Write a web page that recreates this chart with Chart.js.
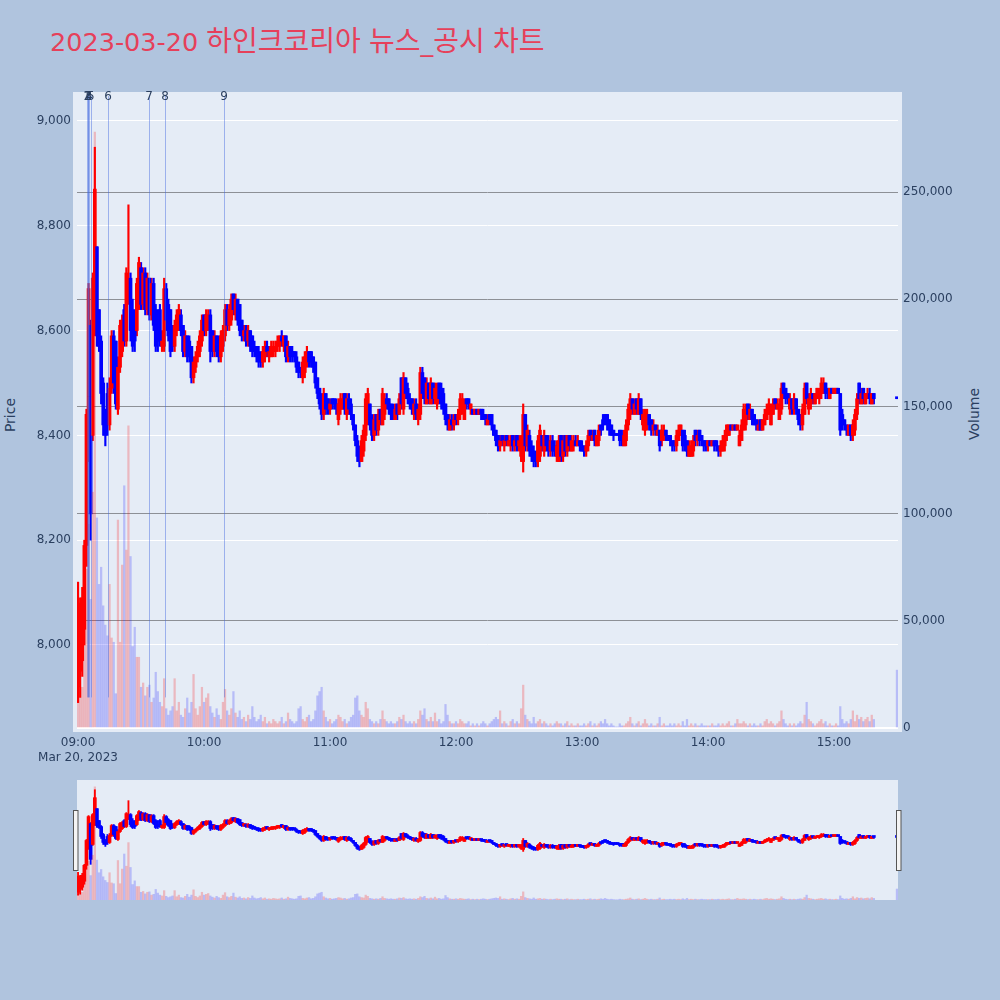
<!DOCTYPE html>
<html><head><meta charset="utf-8">
<script src="https://cdn.jsdelivr.net/npm/chart.js@4.4.1/dist/chart.umd.min.js"></script>
<style>
html,body{margin:0;padding:0;background:#b0c4de;width:1000px;height:1000px;overflow:hidden;font-family:"DejaVu Sans","Noto Sans CJK KR",sans-serif;}
#title{position:absolute;left:50px;top:28px;font-size:25.5px;line-height:28px;color:#e6405a;white-space:nowrap;font-family:"DejaVu Sans","Noto Sans CJK KR",sans-serif;}
#title .ko{font-size:28px;}
.axt{position:absolute;font-size:14px;line-height:14px;color:#2a3f5f;white-space:nowrap;transform:translate(-50%,-50%) rotate(-90deg);}
#main{position:absolute;left:0;top:0;}
#slider{position:absolute;left:70px;top:780px;}
</style></head><body>
<div id="title">2023-03-20 <span class="ko">하인크코리아</span> <span class="ko">뉴스</span>_<span class="ko">공시</span> <span class="ko">차트</span></div>
<div class="axt" style="left:10px;top:415px;">Price</div>
<div class="axt" style="left:974px;top:414px;">Volume</div>
<canvas id="main" width="1000" height="775"></canvas>
<canvas id="slider" width="835" height="120"></canvas>
<script>
// ---- data (one candle per minute starting at startTime) ----
const startTime = "09:00";
const opens = [7920,7950,7970,8030,8190,8360,8610,8400,8600,8760,
8640,8580,8500,8440,8480,8420,8490,8590,8580,8450,
8530,8560,8640,8580,8660,8700,8640,8620,8600,8650,
8720,8650,8710,8640,8700,8630,8690,8640,8600,8640,
8570,8570,8680,8650,8640,8600,8570,8600,8610,8630,
8610,8560,8590,8580,8570,8510,8530,8550,8560,8580,
8630,8600,8610,8630,8600,8560,8590,8580,8550,8570,
8590,8640,8610,8620,8670,8630,8660,8650,8620,8590,
8600,8580,8600,8590,8570,8570,8560,8550,8540,8550,
8570,8550,8550,8560,8560,8570,8570,8590,8570,8590,
8550,8570,8560,8560,8550,8540,8530,8510,8520,8540,
8560,8560,8550,8540,8510,8490,8470,8440,8480,8470,
8450,8470,8470,8460,8430,8450,8450,8480,8440,8470,
8460,8440,8420,8390,8370,8350,8370,8400,8430,8460,
8430,8400,8440,8410,8450,8420,8440,8470,8470,8460,
8450,8430,8460,8440,8510,8450,8510,8490,8470,8470,
8440,8460,8430,8440,8520,8510,8460,8500,8460,8500,
8470,8460,8500,8490,8480,8460,8440,8410,8430,8420,
8440,8430,8440,8450,8430,8470,8470,8450,8450,8440,
8450,8440,8450,8440,8440,8420,8440,8440,8420,8410,
8400,8380,8400,8380,8400,8380,8380,8400,8380,8400,
8380,8360,8350,8440,8380,8400,8380,8370,8370,8350,
8360,8400,8370,8400,8390,8370,8390,8380,8360,8350,
8400,8360,8400,8370,8400,8370,8380,8390,8380,8390,
8380,8380,8370,8380,8410,8390,8410,8380,8390,8420,
8430,8440,8440,8430,8420,8410,8400,8400,8410,8400,
8380,8390,8420,8440,8470,8440,8470,8440,8470,8420,
8410,8420,8440,8430,8410,8420,8400,8410,8390,8400,
8410,8400,8400,8390,8390,8380,8390,8400,8410,8400,
8390,8360,8360,8370,8410,8390,8410,8400,8390,8390,
8380,8390,8380,8390,8390,8380,8370,8370,8380,8400,
8400,8420,8410,8420,8410,8380,8390,8410,8420,8460,
8430,8450,8440,8430,8410,8430,8410,8420,8430,8440,
8420,8440,8470,8450,8430,8450,8500,8490,8480,8450,
8470,8450,8470,8450,8440,8420,8440,8500,8450,8460,
8480,8460,8470,8470,8480,8480,8500,8490,8470,8490,
8480,8480,8490,8480,8440,8430,8420,8400,8420,8400,
8410,8440,8500,8460,8490,8460,8470,8480,8460,8480];
const highs = [8120,8090,8110,8200,8450,8690,8620,8710,8950,8760,
8640,8590,8510,8450,8500,8510,8600,8600,8580,8550,
8620,8630,8650,8720,8840,8710,8660,8640,8700,8740,
8730,8720,8720,8710,8700,8700,8700,8650,8640,8650,
8600,8700,8690,8660,8640,8610,8620,8640,8650,8640,
8610,8600,8590,8590,8570,8550,8560,8580,8600,8630,
8630,8640,8640,8640,8600,8600,8590,8590,8600,8610,
8650,8650,8650,8670,8670,8670,8660,8650,8620,8610,
8610,8610,8600,8590,8580,8570,8570,8560,8570,8580,
8580,8570,8580,8580,8580,8590,8590,8600,8590,8590,
8580,8570,8570,8560,8560,8540,8530,8550,8560,8570,
8560,8560,8550,8540,8510,8490,8480,8490,8480,8470,
8470,8470,8470,8470,8470,8480,8480,8480,8480,8480,
8470,8440,8420,8400,8380,8400,8420,8480,8490,8460,
8440,8440,8440,8450,8450,8490,8480,8480,8470,8460,
8460,8460,8460,8480,8510,8520,8510,8500,8480,8470,
8470,8470,8460,8530,8530,8510,8510,8500,8510,8500,
8500,8500,8500,8500,8490,8460,8440,8440,8440,8440,
8440,8450,8480,8480,8470,8470,8470,8460,8450,8450,
8450,8450,8450,8450,8440,8440,8440,8440,8420,8410,
8400,8400,8400,8400,8400,8400,8400,8400,8400,8400,
8400,8400,8460,8440,8420,8410,8390,8380,8370,8400,
8420,8400,8410,8400,8400,8400,8400,8390,8390,8400,
8400,8400,8400,8400,8400,8400,8400,8400,8400,8390,
8390,8380,8390,8410,8410,8410,8410,8400,8420,8420,
8440,8440,8440,8430,8420,8410,8400,8400,8410,8410,
8410,8430,8460,8480,8470,8470,8470,8480,8470,8450,
8450,8450,8440,8430,8430,8420,8420,8410,8420,8420,
8410,8400,8400,8390,8390,8410,8420,8420,8410,8410,
8390,8390,8390,8400,8410,8410,8410,8400,8390,8390,
8390,8390,8390,8390,8390,8380,8390,8400,8410,8420,
8420,8420,8420,8420,8420,8410,8430,8460,8460,8460,
8460,8450,8440,8430,8430,8430,8430,8450,8460,8470,
8460,8470,8470,8470,8470,8500,8500,8490,8480,8480,
8470,8480,8470,8450,8440,8460,8500,8500,8480,8490,
8480,8480,8490,8490,8510,8510,8500,8490,8490,8490,
8490,8490,8490,8480,8450,8430,8420,8420,8420,8430,
8450,8480,8500,8490,8490,8480,8490,8490,8480,8480];
const lows = [7890,7900,7940,8000,8150,8350,8200,8390,8590,8570,
8560,8460,8400,8380,8400,8410,8480,8480,8450,8440,
8520,8550,8570,8570,8650,8580,8560,8560,8590,8640,
8640,8640,8630,8630,8620,8620,8600,8560,8560,8570,
8560,8560,8600,8580,8550,8560,8560,8590,8600,8590,
8550,8550,8540,8540,8500,8500,8520,8540,8550,8570,
8590,8590,8600,8540,8550,8550,8550,8540,8540,8560,
8580,8600,8600,8610,8630,8620,8610,8590,8580,8580,
8570,8570,8560,8550,8550,8540,8530,8530,8530,8540,
8550,8540,8550,8550,8550,8560,8560,8570,8560,8540,
8540,8540,8540,8540,8520,8510,8510,8500,8510,8530,
8530,8530,8520,8490,8470,8450,8430,8430,8440,8440,
8440,8450,8450,8440,8420,8440,8450,8440,8430,8440,
8430,8410,8380,8350,8340,8350,8360,8390,8420,8410,
8390,8390,8400,8400,8420,8420,8430,8450,8440,8430,
8430,8430,8430,8440,8450,8440,8470,8460,8450,8440,
8430,8430,8420,8430,8470,8460,8460,8460,8460,8460,
8460,8450,8460,8450,8440,8420,8410,8410,8410,8410,
8420,8420,8430,8440,8430,8450,8450,8440,8440,8440,
8440,8440,8430,8430,8420,8420,8420,8410,8400,8380,
8370,8370,8380,8370,8380,8380,8370,8370,8370,8370,
8370,8350,8330,8370,8370,8360,8350,8340,8340,8340,
8350,8370,8360,8370,8360,8360,8360,8360,8350,8350,
8350,8350,8360,8360,8370,8370,8370,8380,8380,8370,
8370,8360,8360,8370,8390,8390,8380,8380,8380,8400,
8410,8420,8410,8400,8400,8390,8400,8400,8380,8380,
8380,8380,8410,8430,8440,8440,8440,8440,8430,8410,
8400,8410,8410,8400,8400,8400,8400,8370,8380,8390,
8390,8390,8380,8370,8370,8370,8390,8400,8370,8370,
8360,8360,8360,8360,8380,8380,8380,8380,8370,8370,
8370,8380,8380,8370,8370,8360,8360,8370,8370,8390,
8400,8410,8410,8410,8410,8380,8390,8410,8410,8430,
8430,8420,8420,8410,8410,8410,8410,8420,8430,8440,
8420,8440,8450,8450,8430,8440,8470,8460,8460,8440,
8440,8440,8440,8420,8410,8410,8440,8460,8440,8450,
8460,8460,8470,8460,8470,8480,8470,8470,8470,8480,
8480,8480,8480,8400,8410,8410,8400,8400,8390,8390,
8400,8430,8460,8460,8460,8460,8470,8460,8460,8460];
const closes = [8080,8060,8090,8190,8440,8680,8250,8700,8870,8590,
8570,8480,8420,8400,8420,8490,8590,8500,8460,8530,
8610,8620,8580,8710,8700,8600,8570,8580,8690,8730,
8650,8710,8640,8700,8630,8690,8610,8570,8580,8580,
8580,8680,8620,8590,8560,8570,8610,8630,8640,8600,
8560,8590,8550,8550,8510,8540,8550,8570,8590,8620,
8600,8630,8630,8560,8560,8590,8560,8550,8590,8600,
8640,8610,8640,8660,8640,8660,8620,8600,8590,8600,
8580,8600,8570,8560,8560,8550,8540,8540,8560,8570,
8560,8560,8570,8570,8570,8580,8590,8580,8590,8550,
8570,8550,8550,8550,8530,8520,8520,8540,8550,8560,
8540,8540,8530,8500,8480,8460,8440,8480,8450,8450,
8460,8460,8460,8450,8460,8470,8470,8450,8470,8450,
8440,8420,8390,8360,8350,8390,8410,8470,8480,8420,
8400,8430,8410,8440,8430,8480,8470,8460,8450,8440,
8440,8450,8440,8470,8460,8510,8480,8470,8460,8450,
8460,8440,8450,8520,8480,8470,8500,8470,8500,8470,
8490,8490,8470,8460,8450,8430,8420,8430,8420,8430,
8430,8440,8470,8470,8460,8460,8460,8460,8440,8450,
8440,8450,8440,8430,8430,8430,8430,8420,8400,8390,
8380,8390,8390,8390,8390,8390,8390,8380,8390,8380,
8390,8390,8440,8380,8410,8370,8360,8350,8350,8390,
8410,8380,8400,8380,8370,8390,8370,8370,8380,8390,
8360,8390,8370,8400,8380,8390,8390,8380,8390,8380,
8370,8370,8380,8400,8400,8400,8390,8400,8410,8410,
8420,8430,8420,8410,8400,8400,8400,8400,8390,8390,
8400,8420,8450,8470,8450,8460,8450,8470,8440,8440,
8440,8440,8420,8410,8420,8410,8410,8380,8410,8410,
8400,8390,8390,8380,8380,8400,8410,8420,8380,8380,
8370,8380,8380,8390,8390,8400,8390,8390,8380,8380,
8390,8380,8390,8380,8380,8370,8380,8390,8400,8420,
8420,8410,8420,8410,8420,8400,8420,8450,8450,8440,
8450,8430,8420,8420,8420,8410,8430,8440,8450,8460,
8450,8460,8460,8460,8460,8490,8480,8470,8470,8470,
8450,8470,8450,8430,8420,8450,8490,8470,8470,8480,
8470,8480,8490,8480,8500,8500,8480,8480,8490,8480,
8490,8490,8480,8410,8420,8420,8410,8420,8400,8420,
8440,8470,8470,8480,8470,8480,8480,8470,8480,8470];
const volumes = [14000,19000,19000,68000,74000,95000,60000,110000,278000,98000,
67000,75000,57000,48000,43000,67000,42000,40000,16000,97000,
40000,76000,113000,83000,141000,80000,38000,47000,33000,33000,
19000,21000,15000,19000,20000,12000,14000,26000,17000,12000,
10000,23000,9000,6000,8000,10000,23000,8000,12000,6000,
5000,9000,14000,7000,12000,25000,9000,6000,10000,19000,
12000,14000,16000,10000,7000,5000,9000,6000,4000,12000,
18000,8000,6000,9000,17000,7000,5000,8000,4000,5000,
3000,6000,4000,10000,5000,3000,4000,6000,3000,5000,
2000,3000,2000,4000,3000,2000,3000,5000,2000,3000,
7000,4000,3000,2000,3000,9000,10000,4000,3000,5000,
6000,3000,4000,8000,15000,17000,19000,8000,5000,3000,
4000,2000,3000,4000,6000,5000,3000,4000,2000,3000,
5000,6000,14000,15000,8000,6000,5000,12000,9000,4000,
3000,2000,3000,2000,4000,8000,4000,3000,2000,3000,
2000,2000,3000,5000,4000,6000,3000,2000,3000,2000,
3000,2000,4000,8000,6000,9000,4000,3000,5000,3000,
7000,3000,4000,2000,3000,11000,6000,3000,2000,2000,
3000,2000,4000,3000,2000,2000,3000,1000,2000,1000,
2000,1000,2000,3000,2000,1000,2000,3000,4000,5000,
4000,8000,2000,3000,2000,1000,3000,4000,2000,3000,
2000,9000,20000,6000,4000,3000,2000,5000,2000,3000,
4000,2000,3000,2000,1000,2000,1000,2000,3000,2000,
2000,1000,2000,3000,1000,2000,1000,1000,2000,1000,
1000,2000,1000,2000,3000,1000,2000,1000,2000,3000,
2000,4000,2000,1000,2000,1000,500,500,2000,1000,
1000,2000,3000,5000,2000,1000,2000,3000,1000,2000,
4000,2000,1000,2000,1000,1000,2000,5000,1000,2000,
1000,1000,2000,1000,2000,1000,2000,1000,3000,1000,
4000,1000,2000,1000,2000,1000,1000,2000,1000,1000,
1000,1000,2000,1000,1000,2000,1000,2000,1000,2000,
3000,1000,1000,2000,4000,2000,2000,3000,2000,1000,
2000,1000,2000,1000,1000,2000,1000,3000,4000,2000,
3000,2000,1000,2000,3000,8000,4000,2000,1000,2000,
1000,2000,1000,2000,3000,2000,6000,12000,4000,3000,
2000,1000,2000,3000,4000,2000,3000,1000,2000,1000,
1000,2000,1000,10000,4000,2000,3000,2000,4000,8000,
3000,6000,4000,5000,3000,4000,5000,3000,6000,4000];
// closing auction
const auctionTime = "15:30";
const auctionPrice = 8470;
const auctionVolume = 27000;

const priceTicks = [8000, 8200, 8400, 8600, 8800, 9000];
const volumeTicks = [0, 50000, 100000, 150000, 200000, 250000];
const timeTicks = ["09:00","10:00","11:00","12:00","13:00","14:00","15:00"];
const dateLabel = "Mar 20, 2023";
const newsTimes = ["09:04:20","09:04:35","09:04:50","09:05:10","09:06:05","09:14:15","09:33:50","09:41:25","10:09:30"];
const newsLabels = ["1","2","3","4","5","6","7","8","9"];

// ---- helpers ----
function toMin(t){ const p = t.split(':').map(Number); return (p[0]-9)*60 + p[1] + (p[2]||0)/60; }
const t0 = toMin(startTime);
const X = opens.map((_, i) => t0 + i).concat([toMin(auctionTime)]);
const O = opens.concat([auctionPrice]);
const H = highs.concat([auctionPrice]);
const L = lows.concat([auctionPrice]);
const C = closes.concat([auctionPrice]);
const V = volumes.concat([auctionVolume]);
const up = C.map((c, i) => c > O[i]);

const RANGE = { xMin: -0.5, xMax: 390.5, pMin: 7841.6, pMax: 9047.7, vMin: 0, vMax: 294800 };
const NEWS_LOW = 7900;

Chart.defaults.font.family = "'DejaVu Sans', sans-serif";
Chart.defaults.font.size = 12;
Chart.defaults.color = '#2a3f5f';

function makeDatasets(bodyW, wickW, volW){
  return [
    { label:'Volume', yAxisID:'yv', order:0, grouped:false, barThickness:volW,
      data: X.map((x, i) => ({x:x, y:V[i]})),
      backgroundColor: up.map(u => u ? 'rgba(255,0,0,0.22)' : 'rgba(0,0,255,0.2)') },
    { label:'Body', yAxisID:'y', order:1, grouped:false, barThickness:bodyW, minBarLength:2,
      data: X.map((x, i) => ({x:x, y:[O[i], C[i]]})),
      backgroundColor: up.map(u => u ? '#ff0000' : '#0000ff') },
    { label:'Wick', yAxisID:'y', order:2, grouped:false, barThickness:wickW, minBarLength:1,
      data: X.map((x, i) => ({x:x, y:[L[i], H[i]]})),
      backgroundColor: up.map(u => u ? '#ff0000' : '#0000ff') }
  ];
}

const mainBg = { id:'mainBg', beforeDraw(chart){
  const c = chart.ctx; c.save(); c.fillStyle = '#e5ecf6'; c.fillRect(73, 92, 829, 640); c.restore();
}};
const newsPlugin = { id:'news', afterDraw(chart){
  const c = chart.ctx, area = chart.chartArea, xs = chart.scales.x, ys = chart.scales.y;
  c.save();
  c.strokeStyle = 'rgba(65,105,225,0.45)'; c.lineWidth = 1;
  const yb = ys.getPixelForValue(NEWS_LOW);
  newsTimes.forEach(t => {
    const px = Math.round(xs.getPixelForValue(toMin(t))) + 0.5;
    c.beginPath(); c.moveTo(px, area.top); c.lineTo(px, yb); c.stroke();
  });
  c.fillStyle = '#2a3f5f'; c.font = "12px 'DejaVu Sans'"; c.textAlign = 'center'; c.textBaseline = 'middle';
  newsTimes.forEach((t, i) => { c.fillText(newsLabels[i], xs.getPixelForValue(toMin(t)), area.top + 1); });
  c.restore();
}};

new Chart(document.getElementById('main'), {
  type: 'bar',
  data: { datasets: makeDatasets(3, 1.5, 1.6) },
  options: {
    responsive:false, animation:false, events:[], devicePixelRatio:1,
    layout:{ padding:{ top:96, left:0, right:0, bottom:0 } },
    plugins:{ legend:{display:false}, tooltip:{enabled:false} },
    scales:{
      x:{ type:'linear', min:RANGE.xMin, max:RANGE.xMax, offset:false,
          grid:{display:false, drawTicks:false}, border:{display:false},
          afterBuildTicks: s => { s.ticks = timeTicks.map(t => ({value: toMin(t)})); },
          ticks:{ autoSkip:false, maxRotation:0, padding:8, color:'#2a3f5f',
                  callback:(v, i) => i === 0 ? [timeTicks[0], dateLabel] : timeTicks[i] },
          afterFit: s => { s.height = 47; } },
      y:{ type:'linear', position:'left', min:RANGE.pMin, max:RANGE.pMax,
          grid:{ color:'#ffffff', lineWidth:1, drawTicks:false }, border:{display:false},
          afterBuildTicks: s => { s.ticks = priceTicks.map(v => ({value:v})); },
          ticks:{ autoSkip:false, padding:6, color:'#2a3f5f', callback: v => v.toLocaleString('en-US') },
          afterFit: s => { s.width = 77; } },
      yv:{ type:'linear', position:'right', min:RANGE.vMin, max:RANGE.vMax,
          grid:{ color: c => (c.tick && c.tick.value === 0) ? '#ffffff' : '#8d9096',
                 lineWidth: c => (c.tick && c.tick.value === 0) ? 2 : 1, drawTicks:false },
          border:{display:false},
          afterBuildTicks: s => { s.ticks = volumeTicks.map(v => ({value:v})); },
          ticks:{ autoSkip:false, padding:5, color:'#2a3f5f', callback: v => v.toLocaleString('en-US') },
          afterFit: s => { s.width = 102; } }
    }
  },
  plugins:[mainBg, newsPlugin]
});

const sliderPlugin = { id:'sliderDeco',
  beforeDraw(chart){ const c = chart.ctx, a = chart.chartArea; c.save(); c.fillStyle = '#e5ecf6'; c.fillRect(a.left, a.top, a.right - a.left, a.bottom - a.top); c.restore(); },
  afterDraw(chart){ const c = chart.ctx, a = chart.chartArea; c.save();
    c.fillStyle = '#f4f4f4'; c.strokeStyle = '#555'; c.lineWidth = 1;
    c.fillRect(a.left - 3.5, 30.5, 4.5, 60); c.strokeRect(a.left - 3.5, 30.5, 4.5, 60);
    c.fillRect(a.right - 1.5, 30.5, 4.5, 60); c.strokeRect(a.right - 1.5, 30.5, 4.5, 60);
    c.restore(); }
};

new Chart(document.getElementById('slider'), {
  type: 'bar',
  data: { datasets: makeDatasets(3, 1.2, 1.6) },
  options: {
    responsive:false, animation:false, events:[], devicePixelRatio:1,
    layout:{ padding:{ top:0, left:7, right:7, bottom:0 } },
    plugins:{ legend:{display:false}, tooltip:{enabled:false} },
    scales:{
      x:{ type:'linear', display:false, offset:false, min:RANGE.xMin, max:RANGE.xMax },
      y:{ type:'linear', display:false, min:RANGE.pMin, max:RANGE.pMax },
      yv:{ type:'linear', display:false, position:'right', min:RANGE.vMin, max:RANGE.vMax }
    }
  },
  plugins:[sliderPlugin]
});
</script>
</body></html>
